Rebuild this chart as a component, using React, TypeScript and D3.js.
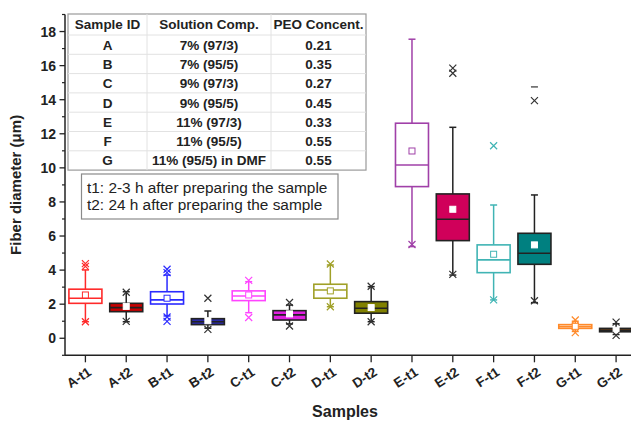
import React from 'react';
import * as d3 from 'd3';

const categories = ['A-t1','A-t2','B-t1','B-t2','C-t1','C-t2','D-t1','D-t2','E-t1','E-t2','F-t1','F-t2','G-t1','G-t2'];
const q1Values = [2.05,1.56,2.01,0.80,2.21,1.07,2.35,1.47,8.90,5.73,3.85,4.34,0.58,0.38];
const medianValues = [2.35,1.80,2.25,0.97,2.48,1.37,2.83,1.76,10.17,6.98,4.60,4.99,0.68,0.47];
const q3Values = [2.88,2.05,2.73,1.15,2.78,1.62,3.17,2.15,12.62,8.47,5.48,6.16,0.80,0.58];
const meanValues = [2.54,1.87,2.35,1.03,2.54,1.43,2.78,1.80,10.99,7.57,4.93,5.48,0.70,0.47];
const whiskerLowValues = [0.97,0.97,1.31,0.59,1.50,0.84,1.85,0.97,5.38,3.71,2.25,2.09,0.40,0.22];
const whiskerHighValues = [4.01,2.73,3.71,1.60,3.32,1.95,4.30,3.03,17.55,12.38,7.82,8.41,1.00,0.85];
const crossValues = [[4.38,4.22,0.97],[2.70,0.99],[4.05,3.85,1.25,0.99],[2.35,0.52],[3.40,1.22],[2.10,0.72],[4.36,1.85],[3.05,0.97],[5.50],[15.85,15.55,3.75],[11.30,2.25],[13.95,2.20],[1.07,0.33],[0.95,0.17]];
const dashValues = [[],[],[],[],[],[],[],[],[],[],[],[14.75],[],[]];

const boxColors = ['#ff2a2a','#c80000','#2a2aff','#2a2aa8','#ff44ff','#e020e0','#a0a028','#808000','#a040a8','#d0005a','#40b4b4','#008080','#ff8a2a','#8a4a10'];
const boxFilled = [false,true,false,true,false,true,false,true,false,true,false,true,false,true];

const yTicks = [0,2,4,6,8,10,12,14,16,18];
const yMinorTicks = [-1,1,3,5,7,9,11,13,15,17,19];

const tableHeaders = ['Sample ID','Solution Comp.','PEO Concent.'];
const sampleIds = ['A','B','C','D','E','F','G'];
const solutionComps = ['7% (97/3)','7% (95/5)','9% (97/3)','9% (95/5)','11% (97/3)','11% (95/5)','11% (95/5) in DMF'];
const peoConcents = ['0.21','0.35','0.27','0.45','0.33','0.55','0.55'];
const legendLines = ['t1: 2-3 h after preparing the sample','t2: 24 h after preparing the sample'];

const W = 631, H = 423;
const left = 65, right = 636.5, top = 14.5, bottom = 355.3;
const FONT = "'Liberation Sans', Arial, Helvetica, sans-serif";

export default function App() {
  const x = d3.scalePoint<string>().domain(categories).range([left, right]).padding(0.5);
  const y = d3.scaleLinear().domain([-1, 19]).range([bottom, top]);
  const bw = 33;

  const tX0 = 68, tX1 = 147, tX2 = 271, tX3 = 366;
  const tTop = 14, headH = 21, rowH = 19.3;
  const tBottom = tTop + headH + rowH * sampleIds.length;

  const cross = (cx: number, cy: number, s: number, color: string, key: string) => (
    <path key={key} d={`M${cx - s},${cy - s}L${cx + s},${cy + s}M${cx - s},${cy + s}L${cx + s},${cy - s}`} stroke={color} strokeWidth={1.2} fill="none" />
  );

  return (
    <svg width={W} height={H} style={{ position: 'absolute', left: 0, top: 0, background: '#fff' }} fontFamily={FONT}>
      <rect x={0} y={0} width={W} height={H} fill="#fff" />
      {/* table */}
      <g>
        <rect x={tX0} y={tTop} width={tX3 - tX0} height={tBottom - tTop} fill="#fff" stroke="#9a9a9a" strokeWidth={1.2} />
        {sampleIds.map((_, i) => {
          const yy = tTop + headH + rowH * i;
          return <line key={'rl' + i} x1={tX0} x2={tX3} y1={yy} y2={yy} stroke="#e2e2e2" strokeWidth={1} />;
        })}
        {[tX1, tX2].map((xx, i) => (
          <line key={'cl' + i} x1={xx} x2={xx} y1={tTop} y2={tBottom} stroke="#e2e2e2" strokeWidth={1} />
        ))}
        {tableHeaders.map((h, i) => {
          const cx = [(tX0 + tX1) / 2, (tX1 + tX2) / 2, (tX2 + tX3) / 2][i];
          return <text key={'th' + i} x={cx} y={tTop + 15} textAnchor="middle" fontWeight="bold" fontSize={13.5} fill="#222">{h}</text>;
        })}
        {sampleIds.map((s, i) => {
          const cy = tTop + headH + rowH * i + rowH / 2 + 5;
          return (
            <g key={'tr' + i} fontWeight="bold" fontSize={13.5} fill="#222" textAnchor="middle">
              <text x={(tX0 + tX1) / 2} y={cy}>{s}</text>
              <text x={(tX1 + tX2) / 2} y={cy}>{solutionComps[i]}</text>
              <text x={(tX2 + tX3) / 2} y={cy}>{peoConcents[i]}</text>
            </g>
          );
        })}
      </g>
      {/* legend box */}
      <rect x={81.5} y={174} width={256.5} height={45} fill="#fff" stroke="#8a8a8a" strokeWidth={1.2} />
      {legendLines.map((l, i) => (
        <text key={'lg' + i} x={87} y={192.5 + 17.5 * i} fontSize={15.4} fill="#222">{l}</text>
      ))}
      {/* boxes */}
      {categories.map((c, i) => {
        const cx = x(c) as number;
        const col = boxColors[i];
        const f = boxFilled[i];
        const line = f ? '#222' : col;
        const mark = f ? '#333' : col;
        const yq1 = y(q1Values[i]), yq3 = y(q3Values[i]);
        const capW = 3.5;
        return (
          <g key={'b' + i}>
            <line x1={cx} x2={cx} y1={y(whiskerHighValues[i])} y2={yq3} stroke={line} strokeWidth={1.5} />
            <line x1={cx} x2={cx} y1={yq1} y2={y(whiskerLowValues[i])} stroke={line} strokeWidth={1.5} />
            <line x1={cx - capW} x2={cx + capW} y1={y(whiskerHighValues[i])} y2={y(whiskerHighValues[i])} stroke={line} strokeWidth={1.5} />
            <line x1={cx - capW} x2={cx + capW} y1={y(whiskerLowValues[i])} y2={y(whiskerLowValues[i])} stroke={line} strokeWidth={1.5} />
            <rect x={cx - bw / 2} y={yq3} width={bw} height={Math.max(yq1 - yq3, 0.5)} fill={f ? col : '#fff'} stroke={line} strokeWidth={1.6} />
            <line x1={cx - bw / 2} x2={cx + bw / 2} y1={y(medianValues[i])} y2={y(medianValues[i])} stroke={line} strokeWidth={1.6} />
            <rect x={cx - 3} y={y(meanValues[i]) - 3} width={6} height={6} fill="#fff" stroke={f ? '#fff' : col} strokeWidth={1} />
            {crossValues[i].map((v, j) => cross(cx, y(v), 3.5, mark, 'x' + i + '-' + j))}
            {dashValues[i].map((v, j) => (
              <line key={'d' + i + '-' + j} x1={cx - 3.5} x2={cx + 3.5} y1={y(v)} y2={y(v)} stroke={mark} strokeWidth={1.2} />
            ))}
          </g>
        );
      })}
      {/* axes */}
      <line x1={left} x2={left} y1={top} y2={bottom} stroke="#222" strokeWidth={1.5} />
      <line x1={left} x2={right} y1={bottom} y2={bottom} stroke="#222" strokeWidth={1.5} />
      {yTicks.map(t => (
        <g key={'yt' + t}>
          <line x1={left - 5.5} x2={left} y1={y(t)} y2={y(t)} stroke="#222" strokeWidth={1.3} />
          <text x={left - 9} y={y(t) + 5} textAnchor="end" fontWeight="bold" fontSize={14} fill="#222">{t}</text>
        </g>
      ))}
      {yMinorTicks.map(t => (
        <line key={'ym' + t} x1={left - 3} x2={left} y1={y(t)} y2={y(t)} stroke="#222" strokeWidth={1.2} />
      ))}
      {categories.map(c => {
        const cx = x(c) as number;
        return (
          <g key={'xt' + c}>
            <line x1={cx} x2={cx} y1={bottom} y2={bottom + 7} stroke="#222" strokeWidth={1.3} />
            <text transform={`translate(${cx + 7},${bottom + 19}) rotate(-33)`} textAnchor="end" fontWeight="bold" fontSize={13.5} fill="#222">{c}</text>
          </g>
        );
      })}
      <text x={345} y={417} textAnchor="middle" fontWeight="bold" fontSize={16} fill="#222">Samples</text>
      <text transform={`translate(21,${(top + bottom) / 2}) rotate(-90)`} textAnchor="middle" fontWeight="bold" fontSize={15} fill="#222">Fiber diameter (μm)</text>
    </svg>
  );
}
